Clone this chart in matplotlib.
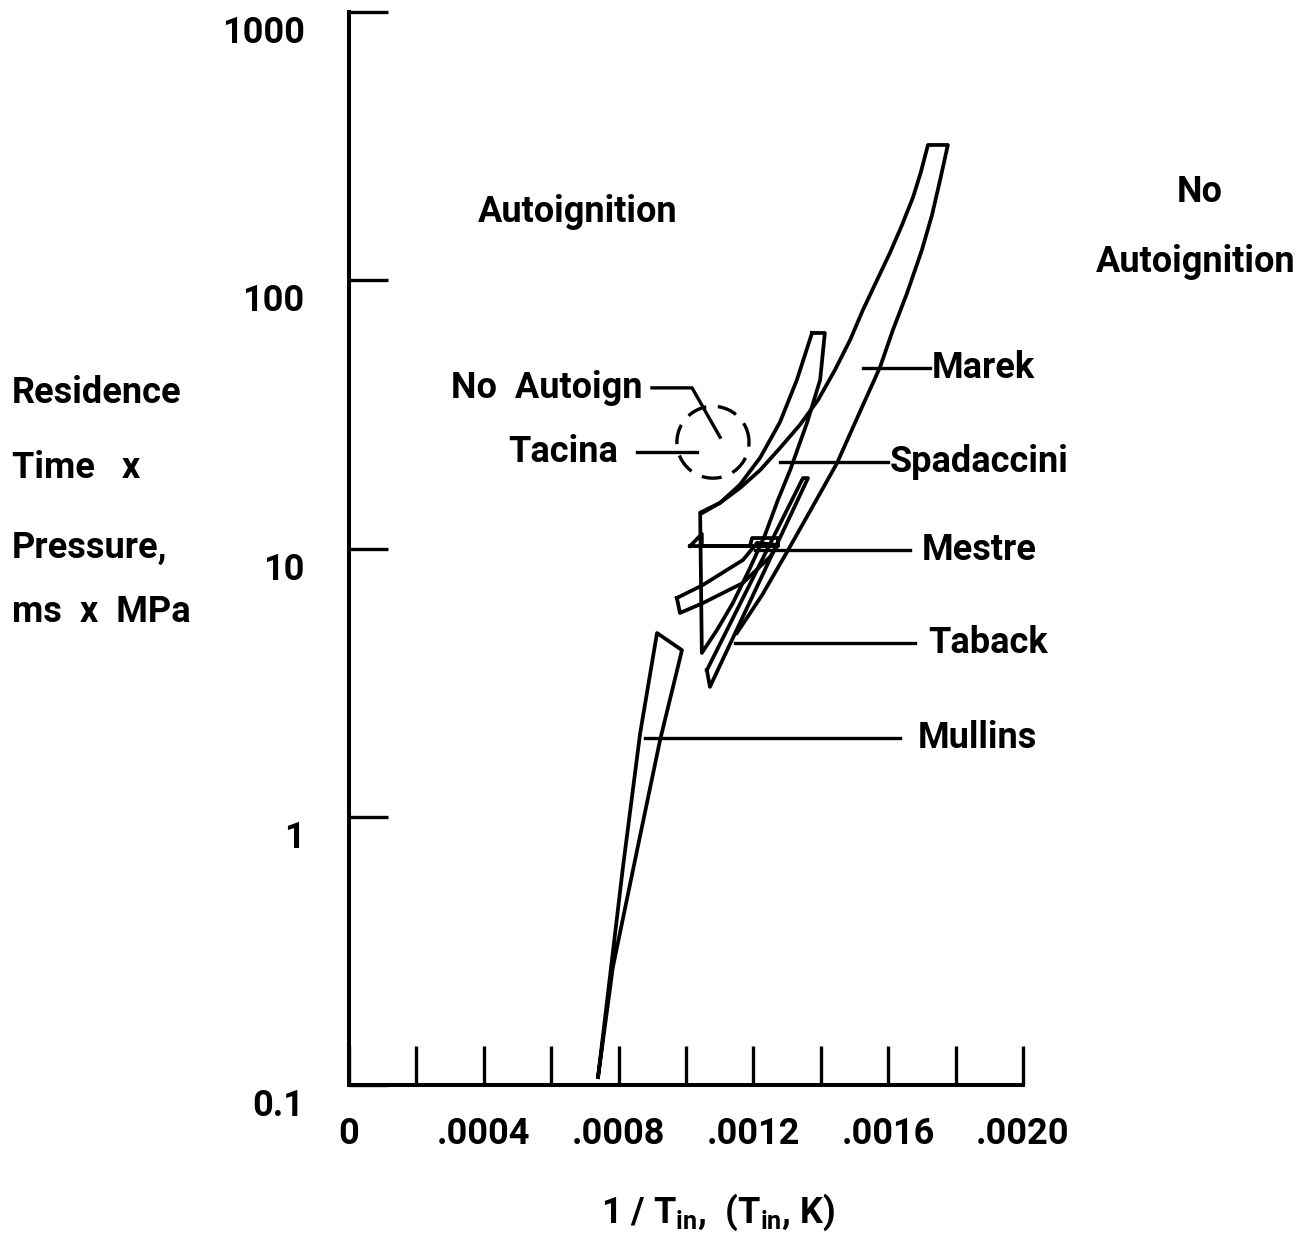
import numpy as np
import matplotlib
matplotlib.use('Agg')
import matplotlib.pyplot as plt
from matplotlib.transforms import ScaledTranslation

plt.rcParams['font.family'] = ['Roboto', 'DejaVu Sans']
plt.rcParams['font.weight'] = 'bold'

# band outlines (1/T_in, residence time x pressure)
mullins_x = [0.000739, 0.000813, 0.000864, 0.000914, 0.000988, 0.000923, 0.000855, 0.000783]
mullins_y = [0.107, 0.650, 2.05, 4.84, 4.18, 1.93, 0.752, 0.275]

marek_x = [0.001050, 0.001101, 0.001160, 0.001220, 0.001279, 0.001338, 0.001392, 0.001442,
           0.001487, 0.001525, 0.001567, 0.001605, 0.001641, 0.001674, 0.001697, 0.001718,
           0.001777, 0.001754, 0.001730, 0.001700, 0.001656, 0.001614, 0.001576, 0.001516,
           0.001448, 0.001374, 0.001303, 0.001226, 0.001151]
marek_y = [13.6, 14.8, 16.8, 19.6, 23.7, 28.9, 35.8, 46.3,
           59.9, 77.5, 100.2, 126.4, 160.7, 204.4, 253.3, 319.4,
           319.4, 236.4, 175.1, 129.7, 89.6, 65.3, 47.5, 32.3,
           20.8, 14.2, 9.87, 6.71, 4.84]

spad_x = [0.001374, 0.001412, 0.001398, 0.001359, 0.001309, 0.001273, 0.001234, 0.001190,
          0.001139, 0.001092, 0.001047, 0.001042, 0.001101, 0.001160, 0.001220, 0.001279,
          0.001329, 0.001374]
spad_y = [63.6, 63.6, 42.5, 29.4, 19.6, 15.2, 11.2, 8.46,
          6.26, 4.97, 4.08, 13.6, 14.8, 17.3, 21.8, 29.6,
          42.5, 63.6]

mestre_x = [0.000973, 0.001050, 0.001169, 0.001211, 0.001273, 0.001249, 0.001169, 0.001050, 0.000982, 0.000973]
mestre_y = [6.54, 7.31, 9.06, 10.5, 10.3, 9.30, 7.44, 6.26, 5.75, 6.54]
mestre_bar_x = [0.001012, 0.001047, 0.001047, 0.001190, 0.001196, 0.001273, 0.001273, 0.001012]
mestre_bar_y = [10.21, 11.33, 10.21, 10.21, 10.94, 10.94, 10.21, 10.21]

taback_x = [0.001062, 0.001347, 0.001362, 0.001071, 0.001062]
taback_y = [3.52, 18.3, 18.3, 3.05, 3.52]

# Tacina no-autoignition point (dashed circle)
tacina_xc, tacina_yc = 0.001080, 24.9
tacina_rx, tacina_rdec = 0.000107, 0.134

# leader lines
noauto_lx = [0.000899, 0.001018, 0.001101]
noauto_ly = [39.7, 39.7, 26.0]
tacina_lx = [0.000855, 0.001033]
tacina_ly = [22.9, 22.9]

labels = ['Marek', 'Spadaccini', 'Mestre', 'Taback', 'Mullins']
label_x0 = [0.001525, 0.001279, 0.001205, 0.001145, 0.000878]
label_x1 = [0.001724, 0.001599, 0.001665, 0.001680, 0.001635]
label_y = [47.1, 21.0, 9.87, 4.44, 1.97]
label_tx = [0.001730, 0.001605, 0.001700, 0.001718, 0.001688]

xticks = [0, 0.0004, 0.0008, 0.0012, 0.0016, 0.0020]
xticklabels = ['0', '.0004', '.0008', '.0012', '.0016', '.0020']
xminor = [0.0002, 0.0006, 0.0010, 0.0014, 0.0018]
yticks = [0.1, 1, 10, 100, 1000]
yticklabels = ['0.1', '1', '10', '100', '1000']

W, H = 1311, 1255
fs = 26
fig = plt.figure(figsize=(W / 100, H / 100), dpi=100)
ax = fig.add_axes([349 / W, (H - 1085) / H, (1023 - 349) / W, (1085 - 12) / H])
ax.set_yscale('log')
ax.set_xlim(0, 0.002)
ax.set_ylim(0.1, 1000)

for s in ['top', 'right']:
    ax.spines[s].set_visible(False)
for s in ['left', 'bottom']:
    ax.spines[s].set_linewidth(2.9)

ax.set_xticks(xticks)
ax.set_xticklabels(xticklabels)
ax.set_xticks(xminor, minor=True)
ax.set_yticks(yticks)
ax.set_yticklabels(yticklabels)
ax.yaxis.set_minor_locator(matplotlib.ticker.NullLocator())
ax.tick_params(axis='both', which='both', direction='in', length=28, width=2.4, labelsize=fs)
ax.tick_params(axis='x', pad=22)
ax.tick_params(axis='y', pad=32)
for lab in ax.get_yticklabels():
    lab.set_transform(lab.get_transform() + ScaledTranslation(0, -0.17, fig.dpi_scale_trans))

lw = 2.7
ax.plot(mullins_x + mullins_x[:1], mullins_y + mullins_y[:1], color='black', lw=lw)
ax.plot(marek_x, marek_y, color='black', lw=lw)
ax.plot(spad_x, spad_y, color='black', lw=lw)
ax.plot(mestre_x, mestre_y, color='black', lw=lw)
ax.plot(mestre_bar_x, mestre_bar_y, color='black', lw=lw)
ax.plot(taback_x, taback_y, color='black', lw=lw)

t = np.linspace(0, 2 * np.pi, 200)
ax.plot(tacina_xc + tacina_rx * np.cos(t), tacina_yc * 10 ** (tacina_rdec * np.sin(t)),
        color='black', lw=2.4, linestyle=(0, (6, 3.5)))

ax.plot(noauto_lx, noauto_ly, color='black', lw=2.4)
ax.plot(tacina_lx, tacina_ly, color='black', lw=2.4)
ax.text(0.000870, 39.7, 'No  Autoign', fontsize=fs, ha='right', va='center')
ax.text(0.000800, 22.9, 'Tacina', fontsize=fs, ha='right', va='center')

for name, x0, x1, y, tx in zip(labels, label_x0, label_x1, label_y, label_tx):
    ax.plot([x0, x1], [y, y], color='black', lw=2.4, clip_on=False)
    ax.text(tx, y, name, fontsize=fs, ha='left', va='center', clip_on=False)

ax.text(0.000680, 180, 'Autoignition', fontsize=fs, ha='center', va='center')
fig.text(1200 / W, 1 - 192 / H, 'No', fontsize=fs, ha='center', va='center')
fig.text(1196 / W, 1 - 262 / H, 'Autoignition', fontsize=fs, ha='center', va='center')

for txt, yy in zip(['Residence', 'Time   x', 'Pressure,', 'ms  x  MPa'], [393, 468, 548, 612]):
    fig.text(12 / W, 1 - yy / H, txt, fontsize=fs, ha='left', va='center')

fig.text(718 / W, 1 - 1212 / H, r'1 / T$_{\mathregular{in}}$,  (T$_{\mathregular{in}}$, K)',
         fontsize=fs, ha='center', va='center')

fig.savefig('out.png', dpi=100)
